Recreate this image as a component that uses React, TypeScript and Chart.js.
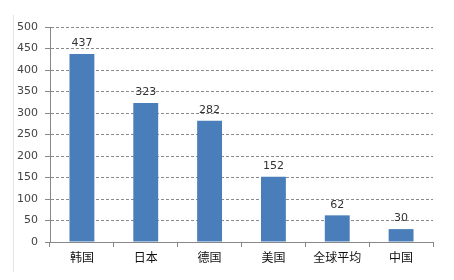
import React, { useEffect, useRef } from "react";
import { Chart, registerables } from "chart.js";

Chart.register(...registerables);

const categories = ["韩国", "日本", "德国", "美国", "全球平均", "中国"];
const values = [437, 323, 282, 152, 62, 30];
const yMin = 0;
const yMax = 500;
const yStep = 50;

const valueLabels = {
  id: "valueLabels",
  afterDatasetsDraw(chart: any) {
    const ctx = chart.ctx;
    const meta = chart.getDatasetMeta(0);
    ctx.save();
    ctx.font = "11px 'DejaVu Sans', Arial, sans-serif";
    ctx.fillStyle = "#333";
    ctx.textAlign = "center";
    ctx.textBaseline = "bottom";
    meta.data.forEach((bar: any, i: number) => {
      ctx.fillText(String(values[i]), bar.x, bar.y - 5);
    });
    ctx.restore();
  },
};

const frame = {
  id: "frame",
  beforeDraw(chart: any) {
    const ctx = chart.ctx;
    ctx.save();
    ctx.fillStyle = "#fff";
    ctx.fillRect(0, 0, chart.width, chart.height);
    ctx.strokeStyle = "#e4e4e4";
    ctx.lineWidth = 1;
    ctx.beginPath();
    ctx.moveTo(13.5, 15);
    ctx.lineTo(13.5, 272);
    ctx.stroke();
    ctx.restore();
  },
};

export default function App() {
  const ref = useRef<HTMLCanvasElement>(null);
  useEffect(() => {
    const chart = new Chart(ref.current!, {
      type: "bar",
      data: {
        labels: categories,
        datasets: [
          {
            data: values,
            backgroundColor: "#4a7ebb",
            categoryPercentage: 1,
            barPercentage: 0.39,
          },
        ],
      },
      options: {
        animation: false,
        responsive: false,
        maintainAspectRatio: false,
        layout: { padding: { left: 0, right: 21, top: 27, bottom: 0 } },
        plugins: { legend: { display: false }, tooltip: { enabled: false } },
        scales: {
          x: {
            grid: {
              offset: true,
              drawOnChartArea: false,
              drawTicks: true,
              tickLength: 5,
              color: "#888",
            },
            border: { color: "#888" },
            ticks: {
              color: "#111",
              padding: 3,
              font: { size: 12, family: "'Noto Sans CJK SC', sans-serif" },
              maxRotation: 0,
            },
            afterFit(scale: any) {
              scale.height = 38;
            },
          },
          y: {
            min: yMin,
            max: yMax,
            grid: {
              color: "#8a8a8a",
              tickColor: "#888",
              tickLength: 5,
              tickBorderDash: [],
            },
            border: { color: "#888", dash: [3, 2] },
            ticks: {
              stepSize: yStep,
              color: "#444",
              padding: 7,
              font: { size: 11, family: "'DejaVu Sans', Arial, sans-serif" },
            },
            afterFit(scale: any) {
              scale.width = 50;
            },
          },
        },
      },
      plugins: [frame, valueLabels],
    });
    return () => chart.destroy();
  }, []);
  return (
    <div style={{ position: "fixed", left: 0, top: 0, width: 454, height: 280, background: "#fff" }}>
      <canvas ref={ref} width={454} height={280} style={{ display: "block" }} />
    </div>
  );
}
